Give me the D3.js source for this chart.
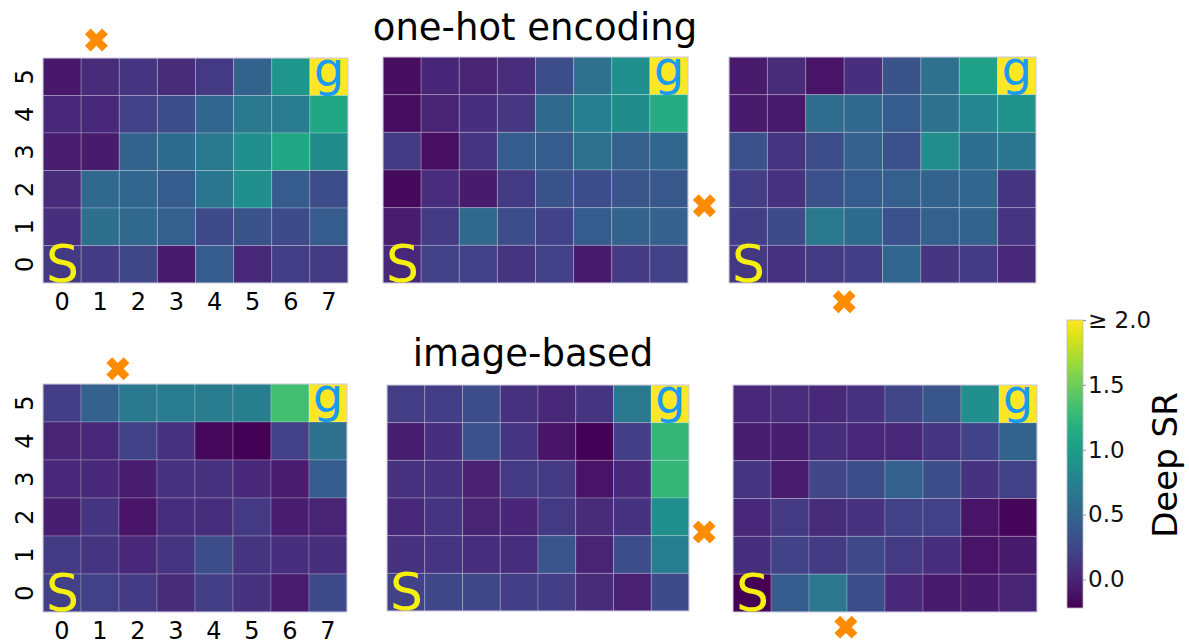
<!doctype html>
<html>
<head>
<meta charset="utf-8">
<style>
  body { margin: 0; background: #fff; }
  text { font-family: "DejaVu Sans", sans-serif; }
</style>
<script src="https://d3js.org/d3.v7.min.js"></script>
</head>
<body>
<svg width="1189" height="640"></svg>
<script>
// grid coordinates
var cols = [0, 1, 2, 3, 4, 5, 6, 7];
var rows = [0, 1, 2, 3, 4, 5];

// Deep SR per cell, rows listed from top (y=5) to bottom (y=0); goal cell clipped at 2.0
var oneHotLeft = [
  [-0.08, 0.05, 0.12, 0.05, 0.15, 0.48, 0.95, 2.0],
  [ 0.03, 0.04, 0.22, 0.30, 0.50, 0.67, 0.70, 1.10],
  [-0.05,-0.06, 0.48, 0.55, 0.67, 0.88, 1.10, 0.85],
  [ 0.05, 0.52, 0.50, 0.42, 0.65, 0.88, 0.42, 0.30],
  [ 0.08, 0.58, 0.52, 0.45, 0.28, 0.35, 0.28, 0.42],
  [ 0.15, 0.17, 0.25,-0.06, 0.43, 0.03, 0.18, 0.15]
];
var oneHotMid = [
  [-0.15, 0.02, 0.00, 0.06, 0.30, 0.60, 0.88, 2.0],
  [-0.15, 0.00, 0.08, 0.13, 0.52, 0.72, 0.85, 1.15],
  [ 0.15,-0.14, 0.12, 0.42, 0.42, 0.60, 0.45, 0.50],
  [-0.16, 0.06,-0.06, 0.15, 0.35, 0.30, 0.36, 0.38],
  [-0.05, 0.15, 0.52, 0.30, 0.22, 0.42, 0.47, 0.46],
  [ 0.03, 0.22, 0.20, 0.12, 0.20,-0.06, 0.17, 0.22]
];
var oneHotRight = [
  [-0.06, 0.05,-0.10, 0.08, 0.35, 0.60, 1.05, 2.0],
  [-0.06,-0.07, 0.56, 0.52, 0.42, 0.60, 0.80, 0.92],
  [ 0.33, 0.12, 0.30, 0.46, 0.33, 0.87, 0.57, 0.65],
  [ 0.18, 0.10, 0.33, 0.42, 0.44, 0.47, 0.50, 0.12],
  [ 0.18, 0.28, 0.67, 0.55, 0.33, 0.45, 0.47, 0.12],
  [ 0.14, 0.10, 0.16, 0.18, 0.50, 0.12, 0.17, 0.03]
];
var imageLeft = [
  [ 0.18, 0.46, 0.67, 0.70, 0.70, 0.73, 1.33, 2.0],
  [ 0.00, 0.04, 0.22, 0.10,-0.17,-0.21, 0.20, 0.60],
  [ 0.04, 0.04,-0.05, 0.10, 0.10, 0.03,-0.05, 0.42],
  [-0.03, 0.12,-0.10, 0.07, 0.07, 0.15,-0.05, 0.00],
  [ 0.15, 0.12, 0.04, 0.12, 0.30, 0.12, 0.08, 0.08],
  [ 0.20, 0.20, 0.17, 0.05, 0.18, 0.10,-0.05, 0.27]
];
var imageMid = [
  [ 0.18, 0.18, 0.30, 0.10, 0.03, 0.12, 0.67, 2.0],
  [-0.03, 0.08, 0.33, 0.12,-0.10,-0.21, 0.18, 1.25],
  [ 0.10, 0.10,-0.02, 0.15, 0.15,-0.10, 0.03, 1.25],
  [ 0.04, 0.12, 0.00, 0.01, 0.15, 0.05, 0.10, 0.88],
  [ 0.10, 0.12, 0.07, 0.07, 0.36, 0.00, 0.30, 0.72],
  [ 0.22, 0.25, 0.25, 0.18, 0.18, 0.05,-0.02, 0.28]
];
var imageRight = [
  [ 0.03, 0.06, 0.03, 0.10, 0.24, 0.37, 0.88, 2.0],
  [-0.03,-0.03, 0.07, 0.04, 0.04, 0.12, 0.22, 0.47],
  [ 0.12,-0.05, 0.24, 0.30, 0.45, 0.30, 0.10, 0.20],
  [ 0.04, 0.15, 0.05, 0.10, 0.20, 0.20,-0.10,-0.18],
  [ 0.07, 0.22, 0.17, 0.26, 0.15, 0.07,-0.10,-0.07],
  [-0.22, 0.42, 0.66, 0.30, 0.04,-0.06,-0.06, 0.00]
];

// orange cross marker of each panel, in grid units
var crossLeft = [1.4, 6.48], crossMid = [8.43, 2.05], crossRight = [3.0, -0.5];
var crossImgLeft = [1.97, 6.4], crossImgMid = [8.4, 2.1], crossImgRight = [2.97, -0.4];

var titles = ["one-hot encoding", "image-based"];
var cbarTicks = [0, 0.5, 1.0, 1.5, 2.0];
var cbarLabels = ["0.0", "0.5", "1.0", "1.5", "\u2265 2.0"];
var vmin = -0.22, vmax = 2.0;

var svg = d3.select("svg");
var color = d3.scaleSequential(d3.interpolateViridis).domain([vmin, vmax]).clamp(true);

var panels = [
  { grid: oneHotLeft,  cross: crossLeft,     x0: 43,  x1: 348,  y0: 58,  y1: 283, axes: true },
  { grid: oneHotMid,   cross: crossMid,      x0: 383, x1: 688,  y0: 57,  y1: 283 },
  { grid: oneHotRight, cross: crossRight,    x0: 729, x1: 1036, y0: 57,  y1: 283 },
  { grid: imageLeft,   cross: crossImgLeft,  x0: 43,  x1: 347,  y0: 384, y1: 612, axes: true },
  { grid: imageMid,    cross: crossImgMid,   x0: 387, x1: 689,  y0: 385, y1: 611 },
  { grid: imageRight,  cross: crossImgRight, x0: 733, x1: 1037, y0: 385, y1: 612 }
];

panels.forEach(function(p) {
  var x = d3.scaleLinear().domain([0, cols.length]).range([p.x0, p.x1]);
  var y = d3.scaleLinear().domain([0, rows.length]).range([p.y1, p.y0]);
  var g = svg.append("g");

  var cells = [];
  p.grid.forEach(function(r, i) {
    r.forEach(function(v, c) { cells.push({ col: c, row: rows.length - 1 - i, v: v }); });
  });

  g.selectAll("rect.cell")
    .data(cells)
    .enter().append("rect")
    .attr("class", "cell")
    .attr("x", function(d) { return x(d.col); })
    .attr("y", function(d) { return y(d.row + 1); })
    .attr("width", function(d) { return x(d.col + 1) - x(d.col); })
    .attr("height", function(d) { return y(d.row) - y(d.row + 1); })
    .attr("fill", function(d) { return color(d.v); })
    .attr("stroke", "rgba(255,255,255,0.22)")
    .attr("stroke-width", 1);

  g.append("rect")
    .attr("x", p.x0).attr("y", p.y0)
    .attr("width", p.x1 - p.x0).attr("height", p.y1 - p.y0)
    .attr("fill", "none").attr("stroke", "#c9c6dc").attr("stroke-width", 1);

  // start and goal letters
  g.append("text")
    .attr("x", x(0) + 3).attr("y", y(0) - 1)
    .attr("font-size", 52).attr("fill", "#f6f10c")
    .text("S");
  g.append("text")
    .attr("x", x(7.5)).attr("y", y(5) - 10)
    .attr("text-anchor", "middle")
    .attr("font-size", 48).attr("fill", "#1a9af0")
    .text("g");

  g.append("path")
    .attr("d", d3.symbol().type(d3.symbolCross).size(330)())
    .attr("transform", "translate(" + x(p.cross[0]) + "," + y(p.cross[1]) + ") rotate(45)")
    .attr("fill", "#ff8c00");

  if (p.axes) {
    g.selectAll("text.xt")
      .data(cols)
      .enter().append("text")
      .attr("class", "xt")
      .attr("x", function(d) { return x(d + 0.5); })
      .attr("y", p.y1 + 27)
      .attr("text-anchor", "middle")
      .attr("font-size", 24)
      .text(function(d) { return d; });
    g.selectAll("text.yt")
      .data(rows)
      .enter().append("text")
      .attr("class", "yt")
      .attr("transform", function(d) { return "translate(" + (p.x0 - 10) + "," + y(d + 0.5) + ") rotate(-90)"; })
      .attr("text-anchor", "middle")
      .attr("font-size", 24)
      .text(function(d) { return d; });
  }
});

// titles
svg.append("text").attr("x", 535).attr("y", 40).attr("text-anchor", "middle")
  .attr("font-size", 37).text(titles[0]);
svg.append("text").attr("x", 533).attr("y", 366).attr("text-anchor", "middle")
  .attr("font-size", 37).text(titles[1]);

// colorbar
var cb = { x: 1067, w: 16, y0: 320, y1: 608 };
var cy = d3.scaleLinear().domain([vmin, vmax]).range([cb.y1, cb.y0]);
var grad = svg.append("defs").append("linearGradient")
  .attr("id", "vir").attr("x1", 0).attr("y1", 1).attr("x2", 0).attr("y2", 0);
d3.range(0, 1.0001, 0.05).forEach(function(t) {
  grad.append("stop").attr("offset", t).attr("stop-color", d3.interpolateViridis(t));
});
svg.append("rect")
  .attr("x", cb.x).attr("y", cb.y0).attr("width", cb.w).attr("height", cb.y1 - cb.y0)
  .attr("fill", "url(#vir)").attr("stroke", "#bbb").attr("stroke-width", 0.8);
var cbAxis = svg.append("g").attr("transform", "translate(" + (cb.x + cb.w) + ",0)")
  .call(d3.axisRight(cy).tickValues(cbarTicks).tickSize(3).tickPadding(2)
    .tickFormat(function(d, i) { return cbarLabels[i]; }));
cbAxis.select(".domain").remove();
cbAxis.selectAll("line").attr("stroke", "#999");
cbAxis.selectAll("text").attr("font-size", 23).attr("font-family", "DejaVu Sans").attr("fill", "#111");

svg.append("text")
  .attr("transform", "translate(1177,465) rotate(-90)")
  .attr("text-anchor", "middle")
  .attr("font-size", 34)
  .text("Deep SR");
</script>
</body>
</html>
